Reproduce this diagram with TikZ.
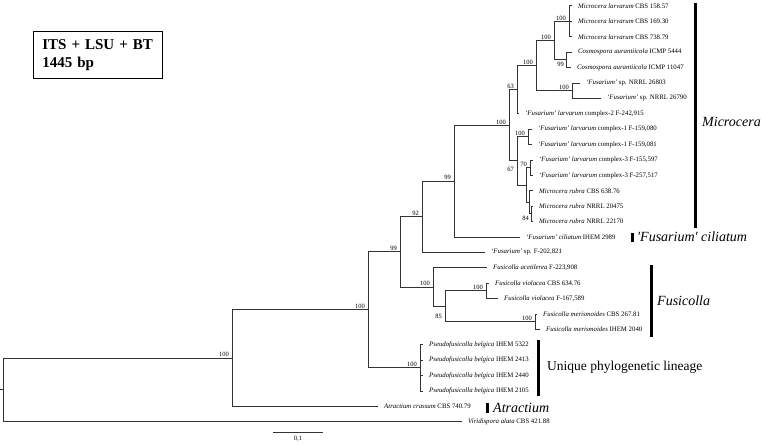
\documentclass[tikz,border=0pt]{standalone}
\usepackage{fontspec}
\setmainfont{Liberation Serif}
\usepackage{tikz}
\usetikzlibrary{positioning}

\begin{document}
\begin{tikzpicture}[x=1pt, y=-1pt,
    branch/.style={line width=1pt, black!80},
    leaf/.style={anchor=west, inner sep=0pt, xshift=6pt, font=\fontsize{6.8}{8}\selectfont},
    boot/.style={anchor=south east, inner sep=0pt, xshift=-3pt, yshift=1pt, font=\fontsize{6.5}{7}\selectfont},
    bootlow/.style={anchor=north east, inner sep=0pt, font=\fontsize{6.5}{7}\selectfont},
    cladebar/.style={line width=3pt},
    cladename/.style={anchor=west, inner sep=0pt, font=\itshape\fontsize{14}{16}\selectfont}]
    \useasboundingbox (0,0) rectangle (762,444);

    % Data set box
    \node[draw, line width=0.8pt, anchor=north west, minimum width=129pt, minimum height=47pt,
          text width=111pt, align=left, inner sep=0pt,
          font=\bfseries\fontsize{15}{18}\selectfont] (dataset) at (33,31) {ITS + LSU + BT\\1445 bp};

    % Leaf tips
    \coordinate (t0) at (572,6);
    \coordinate (t1) at (572,21.4);
    \coordinate (t2) at (572,36.8);
    \coordinate (t3) at (572,52.2);
    \coordinate (t4) at (571,67.6);
    \coordinate (t5) at (580,83);
    \coordinate (t6) at (601,98.4);
    \coordinate (t7) at (519,113.8);
    \coordinate (t8) at (532,129.2);
    \coordinate (t9) at (532,144.6);
    \coordinate (t10) at (533,160);
    \coordinate (t11) at (533,175.4);
    \coordinate (t12) at (533,190.8);
    \coordinate (t13) at (533,206.2);
    \coordinate (t14) at (533,221.6);
    \coordinate (t15) at (520,237);
    \coordinate (t16) at (485,252.4);
    \coordinate (t17) at (487,267.8);
    \coordinate (t18) at (489,283.2);
    \coordinate (t19) at (498,298.6);
    \coordinate (t20) at (537,314);
    \coordinate (t21) at (540,329.4);
    \coordinate (t22) at (423,344.8);
    \coordinate (t23) at (423,360.2);
    \coordinate (t24) at (423,375.6);
    \coordinate (t25) at (423,391);
    \coordinate (t26) at (378,406.4);
    \coordinate (t27) at (462,421.8);

    % Internal nodes
    \coordinate (nLarv) at (569,21.4);
    \coordinate (nCosmo) at (566,59.9);
    \coordinate (nMicro) at (554,40.65);
    \coordinate (nFsp) at (572,90.7);
    \coordinate (nUp) at (536,65.7);
    \coordinate (n63) at (517,89.75);
    \coordinate (nCplx1) at (528,136.9);
    \coordinate (nCplx3) at (530,167.7);
    \coordinate (n84) at (531,213.9);
    \coordinate (nRubra) at (529,202.35);
    \coordinate (nLow) at (526,185.03);
    \coordinate (n67) at (517,160.96);
    \coordinate (nLarvC) at (509,125.36);
    \coordinate (nCil) at (454,181.18);
    \coordinate (n92) at (422,216.79);
    \coordinate (nViol) at (486,290.9);
    \coordinate (nMeri) at (535,321.7);
    \coordinate (n85) at (445,306.3);
    \coordinate (nFusi) at (433,287.05);
    \coordinate (n99) at (400,251.92);
    \coordinate (nPseudo) at (420,367.9);
    \coordinate (nIn) at (368,309.91);
    \coordinate (nOut) at (232,358.16);
    \coordinate (nRoot) at (3,389.98);
    \coordinate (stub) at (0,389.98);

    % Branches
    \draw[branch] (nLarv) |- (t0) (nLarv) |- (t1) (nLarv) |- (t2);
    \draw[branch] (nCosmo) |- (t3) (nCosmo) |- (t4);
    \draw[branch] (nMicro) |- (nLarv) (nMicro) |- (nCosmo);
    \draw[branch] (nFsp) |- (t5) (nFsp) |- (t6);
    \draw[branch] (nUp) |- (nMicro) (nUp) |- (nFsp);
    \draw[branch] (n63) |- (nUp) (n63) |- (t7);
    \draw[branch] (nCplx1) |- (t8) (nCplx1) |- (t9);
    \draw[branch] (nCplx3) |- (t10) (nCplx3) |- (t11);
    \draw[branch] (n84) |- (t13) (n84) |- (t14);
    \draw[branch] (nRubra) |- (t12) (nRubra) |- (n84);
    \draw[branch] (nLow) |- (nCplx3) (nLow) |- (nRubra);
    \draw[branch] (n67) |- (nCplx1) (n67) |- (nLow);
    \draw[branch] (nLarvC) |- (n63) (nLarvC) |- (n67);
    \draw[branch] (nCil) |- (nLarvC) (nCil) |- (t15);
    \draw[branch] (n92) |- (nCil) (n92) |- (t16);
    \draw[branch] (nViol) |- (t18) (nViol) |- (t19);
    \draw[branch] (nMeri) |- (t20) (nMeri) |- (t21);
    \draw[branch] (n85) |- (nViol) (n85) |- (nMeri);
    \draw[branch] (nFusi) |- (t17) (nFusi) |- (n85);
    \draw[branch] (n99) |- (n92) (n99) |- (nFusi);
    \draw[branch] (nPseudo) |- (t22) (nPseudo) |- (t23) (nPseudo) |- (t24) (nPseudo) |- (t25);
    \draw[branch] (nIn) |- (n99) (nIn) |- (nPseudo);
    \draw[branch] (nOut) |- (nIn) (nOut) |- (t26);
    \draw[branch] (nRoot) |- (nOut) (nRoot) |- (t27);
    \draw[branch] (stub) -- (nRoot);

    % Bootstrap values
    \node[boot] (b1) at (nLarv) {100};
    \node[bootlow] (b2) at ([shift={(-2,2)}]nCosmo) {99};
    \node[boot] (b3) at (nMicro) {100};
    \node[boot] (b4) at (nFsp) {100};
    \node[boot] (b5) at (nUp) {100};
    \node[boot] (b6) at (n63) {63};
    \node[boot] (b7) at (nCplx1) {100};
    \node[boot] (b8) at (nCplx3) {70};
    \node[bootlow] (b9) at ([shift={(-2,2)}]n84) {84};
    \node[bootlow] (b10) at ([shift={(-3,6)}]n67) {67};
    \node[boot] (b11) at (nLarvC) {100};
    \node[boot] (b12) at (nCil) {99};
    \node[boot] (b13) at (n92) {92};
    \node[boot] (b14) at (nViol) {100};
    \node[boot] (b15) at (nMeri) {100};
    \node[bootlow] (b16) at ([shift={(-3,8)}]n85) {85};
    \node[boot] (b17) at (nFusi) {100};
    \node[boot] (b18) at (n99) {99};
    \node[boot] (b19) at (nPseudo) {100};
    \node[boot] (b20) at (nIn) {100};
    \node[boot] (b21) at (nOut) {100};

    % Taxa
    \node[leaf] (l0) at (t0) {\textit{Microcera larvarum} CBS 158.57};
    \node[leaf] (l1) at (t1) {\textit{Microcera larvarum} CBS 169.30};
    \node[leaf] (l2) at (t2) {\textit{Microcera larvarum} CBS 738.79};
    \node[leaf] (l3) at (t3) {\textit{Cosmospora aurantiicola} ICMP 5444};
    \node[leaf] (l4) at (t4) {\textit{Cosmospora aurantiicola} ICMP 11047};
    \node[leaf] (l5) at (t5) {\textit{`Fusarium'} sp. NRRL 26803};
    \node[leaf] (l6) at (t6) {\textit{`Fusarium'} sp. NRRL 26790};
    \node[leaf] (l7) at (t7) {\textit{`Fusarium' larvarum} complex-2 F-242,915};
    \node[leaf] (l8) at (t8) {\textit{`Fusarium' larvarum} complex-1 F-159,080};
    \node[leaf] (l9) at (t9) {\textit{`Fusarium' larvarum} complex-1 F-159,081};
    \node[leaf] (l10) at (t10) {\textit{`Fusarium' larvarum} complex-3 F-155,597};
    \node[leaf] (l11) at (t11) {\textit{`Fusarium' larvarum} complex-3 F-257,517};
    \node[leaf] (l12) at (t12) {\textit{Microcera rubra} CBS 638.76};
    \node[leaf] (l13) at (t13) {\textit{Microcera rubra} NRRL 20475};
    \node[leaf] (l14) at (t14) {\textit{Microcera rubra} NRRL 22170};
    \node[leaf] (l15) at (t15) {\textit{`Fusarium' ciliatum} IHEM 2989};
    \node[leaf] (l16) at (t16) {\textit{`Fusarium'} sp. F-202,821};
    \node[leaf] (l17) at (t17) {\textit{Fusicolla acetilerea} F-223,908};
    \node[leaf] (l18) at (t18) {\textit{Fusicolla violacea} CBS 634.76};
    \node[leaf] (l19) at (t19) {\textit{Fusicolla violacea} F-167,589};
    \node[leaf] (l20) at (t20) {\textit{Fusicolla merismoides} CBS 267.81};
    \node[leaf] (l21) at (t21) {\textit{Fusicolla merismoides} IHEM 2040};
    \node[leaf] (l22) at (t22) {\textit{Pseudofusicolla belgica} IHEM 5322};
    \node[leaf] (l23) at (t23) {\textit{Pseudofusicolla belgica} IHEM 2413};
    \node[leaf] (l24) at (t24) {\textit{Pseudofusicolla belgica} IHEM 2440};
    \node[leaf] (l25) at (t25) {\textit{Pseudofusicolla belgica} IHEM 2105};
    \node[leaf] (l26) at (t26) {\textit{Atractium crassum} CBS 740.79};
    \node[leaf] (l27) at (t27) {\textit{Viridispora alata} CBS 421.88};

    % Clade bars and names
    \draw[cladebar] (695,3) -- (695,228);
    \node[cladename] (microcera) at (702,122) {Microcera};
    \draw[cladebar] (632,233) -- (632,242);
    \node[cladename] (ciliatum) at (637,237) {\textquotesingle Fusarium\textquotesingle\ ciliatum};
    \draw[cladebar] (651,265) -- (651,337);
    \node[cladename] (fusicolla) at (657,301) {Fusicolla};
    \draw[cladebar] (538,340) -- (538,396);
    \node[cladename, font=\fontsize{13.5}{16}\selectfont] (lineage) at (547,367) {Unique phylogenetic lineage};
    \draw[cladebar] (487,403) -- (487,413);
    \node[cladename] (atractium) at (493,408) {Atractium};

    % Scale bar
    \coordinate (sb1) at (273,432);
    \coordinate (sb2) at (323,432);
    \draw[branch] (sb1) -- (sb2);
    \node[font=\fontsize{6.5}{7}\selectfont, inner sep=0pt] (scale) at (298,439) {0,1};
\end{tikzpicture}
\end{document}
